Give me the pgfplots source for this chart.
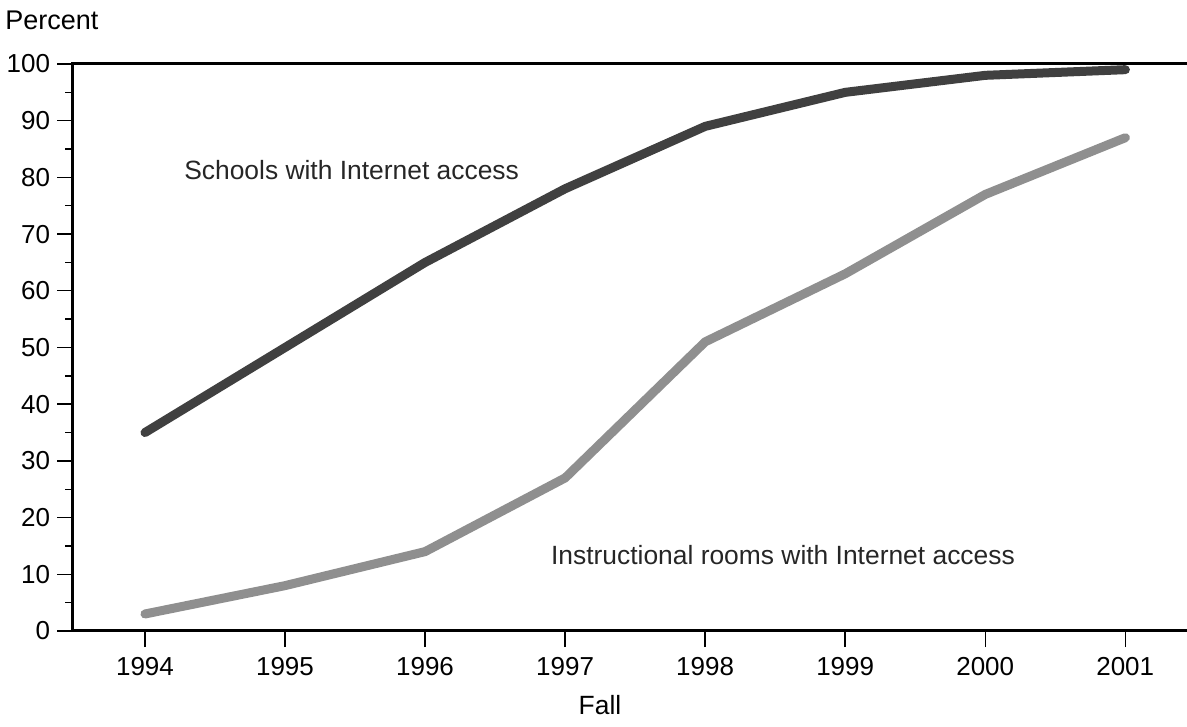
\documentclass[border=0pt]{standalone}
\usepackage{pgfplots}
\pgfplotsset{compat=1.18}
\usepackage{fontspec}
\setmainfont{Liberation Sans}
\definecolor{darkline}{gray}{0.25}
\definecolor{lightline}{gray}{0.56}
\begin{document}
\begin{tikzpicture}[x=1pt,y=1pt]
\begin{axis}[
    at={(36.5pt,48pt)}, anchor=south west,
    scale only axis,
    width=557pt, height=283.5pt,
    xmin=1993.486, xmax=2001.44,
    ymin=0, ymax=100,
    xtick={1994,...,2001},
    ytick={0,10,...,100},
    minor y tick num=1,
    xtick pos=bottom, ytick pos=left,
    tick align=outside,
    major tick length=8pt, minor tick length=4pt,
    every tick/.style={black, line width=0.7pt},
    axis line style={draw=none},
    x tick label style={/pgf/number format/1000 sep={}, yshift=-1.5pt},
    /pgf/number format/assume math mode=true,
    tick label style={font=\fontsize{13}{15}\selectfont},
    clip=false,
]
\draw[line width=1.5pt] (rel axis cs:1,1) -- (rel axis cs:0,1) -- (rel axis cs:0,0) -- (rel axis cs:1,0);

%% Schools with Internet access
\addplot[darkline, line width=4.5pt, line cap=round, line join=round] coordinates {
    (1994,35) (1995,50) (1996,65) (1997,78) (1998,89) (1999,95) (2000,98) (2001,99)};

%% Instructional rooms with Internet access
\addplot[lightline, line width=4.5pt, line cap=round, line join=round] coordinates {
    (1994,3) (1995,8) (1996,14) (1997,27) (1998,51) (1999,63) (2000,77) (2001,87)};

\node[anchor=west, inner sep=0pt, text=black!85, font=\fontsize{13.2}{15}\selectfont] at (axis cs:1994.278,81.3) {Schools with Internet access};
\node[anchor=west, inner sep=0pt, text=black!85, font=\fontsize{13.2}{15}\selectfont] at (axis cs:1996.897,13.4) {Instructional rooms with Internet access};
\end{axis}
\node[anchor=west, inner sep=0pt, font=\fontsize{13.5}{15}\selectfont] at (2.5pt,353.5pt) {Percent};
\node[inner sep=0pt, font=\fontsize{13.2}{15}\selectfont] at (300pt,11pt) {Fall};
\pgfresetboundingbox
\useasboundingbox (0,0) rectangle (593.5pt,363.5pt);
\end{tikzpicture}
\end{document}
